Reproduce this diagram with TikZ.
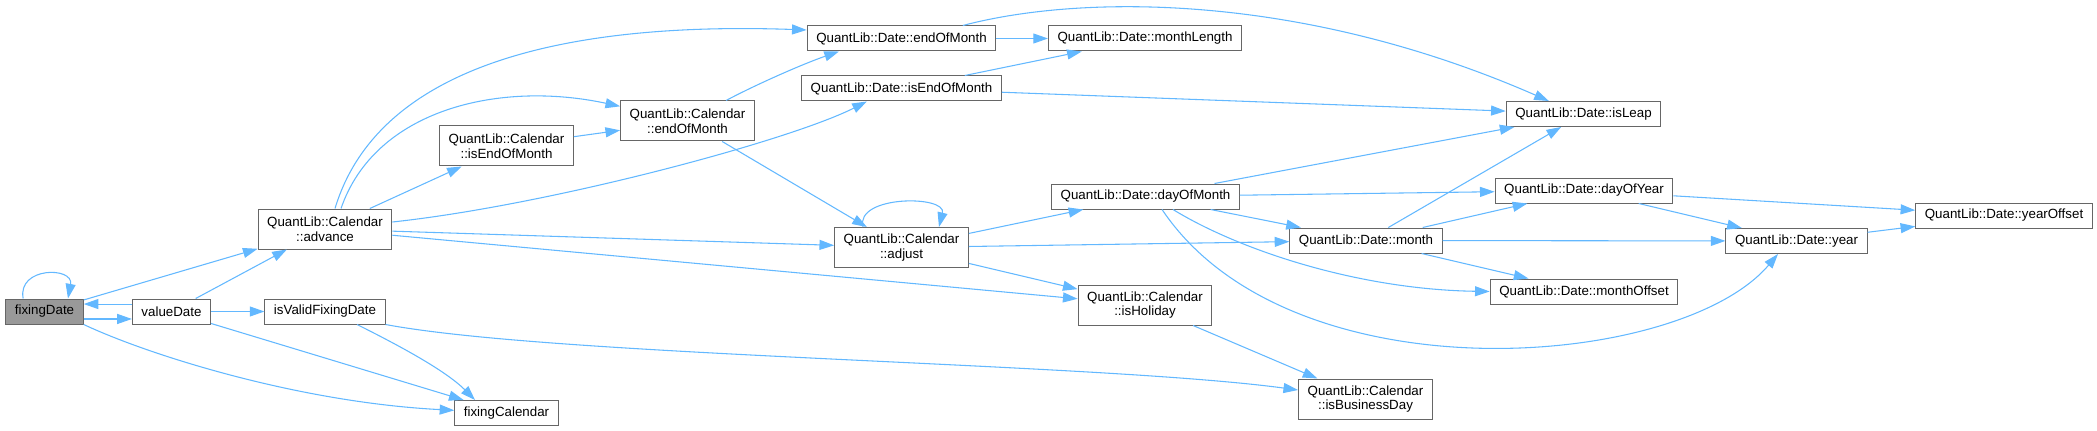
\documentclass[tikz,border=0pt]{standalone}
\usepackage{fontspec}
\setmainfont{Liberation Sans}
\usetikzlibrary{arrows.meta}
\definecolor{callblue}{HTML}{63B8FF}
\definecolor{boxline}{HTML}{666666}
\definecolor{rootfill}{HTML}{999999}
\begin{document}
\begin{tikzpicture}[x=0.75pt,y=-0.75pt,
    fn/.style={draw=boxline,fill=white,line width=0.75pt,font=\fontsize{10}{11}\selectfont,
      inner xsep=6.8pt,inner ysep=0pt,minimum height=18.75pt,align=center},
    fn2/.style={fn,minimum height=30pt},
    root/.style={fn,fill=rootfill},
    call/.style={draw=callblue,line width=0.8pt,-{Triangle[length=11pt,width=7.5pt]}}]
  \useasboundingbox (0,0) rectangle (2097,431);
  \node[root] (fd) at (44.5,311.5) {fixingDate};
  \node[fn] (vd) at (171.5,311.5) {valueDate};
  \node[fn2] (adv) at (325,229) {QuantLib::Calendar\\::advance};
  \node[fn] (ivfd) at (325,311.5) {isValidFixingDate};
  \node[fn] (fcal) at (506.5,413) {fixingCalendar};
  \node[fn2] (ciem) at (506.5,146) {QuantLib::Calendar\\::isEndOfMonth};
  \node[fn2] (ceom) at (687.5,121) {QuantLib::Calendar\\::endOfMonth};
  \node[fn] (deom) at (901.5,38.5) {QuantLib::Date::endOfMonth};
  \node[fn] (diem) at (901.5,88.5) {QuantLib::Date::isEndOfMonth};
  \node[fn2] (adj) at (901.5,247.5) {QuantLib::Calendar\\::adjust};
  \node[fn] (mlen) at (1145,38.5) {QuantLib::Date::monthLength};
  \node[fn] (dom) at (1145.5,196.5) {QuantLib::Date::dayOfMonth};
  \node[fn2] (hol) at (1145,305) {QuantLib::Calendar\\::isHoliday};
  \node[fn] (mon) at (1366,240.5) {QuantLib::Date::month};
  \node[fn2] (bday) at (1365.5,399) {QuantLib::Calendar\\::isBusinessDay};
  \node[fn] (leap) at (1583.5,114) {QuantLib::Date::isLeap};
  \node[fn] (doy) at (1584,190.5) {QuantLib::Date::dayOfYear};
  \node[fn] (moff) at (1584,291.5) {QuantLib::Date::monthOffset};
  \node[fn] (yr) at (1796.5,241) {QuantLib::Date::year};
  \node[fn] (yoff) at (2004,215.5) {QuantLib::Date::yearOffset};

  \foreach \a/\b in {fd/adv,vd/adv,vd/ivfd,vd/fcal,adv/ciem,adv/adj,adv/hol,ciem/ceom,ceom/adj,
      deom/mlen,diem/mlen,diem/leap,adj/dom,adj/mon,adj/hol,dom/leap,dom/doy,dom/mon,
      mon/leap,mon/doy,mon/yr,mon/moff,doy/yr,doy/yoff,yr/yoff,hol/bday}
    \draw[call] (\a) -- (\b);

  \draw[call] ([xshift=-16pt]fd.north) .. controls +(-6,-32) and +(6,-32) .. ([xshift=17.6pt]fd.north);
  \draw[call] ([yshift=-5.6pt]fd.east) -- ([yshift=-5.6pt]vd.west);
  \draw[call] ([yshift=5.6pt]vd.west) -- ([yshift=5.6pt]fd.east);
  \draw[call] (fd.south east) .. controls +(66,31) and +(-155,-8) .. ([yshift=2pt]fcal.west);
  \draw[call] ([xshift=24pt]ivfd.south) .. controls +(40,20) and +(-30,-30) .. ([xshift=-23.6pt]fcal.north);
  \draw[call] (ivfd.south east) .. controls +(170,32) and +(-200,-27) .. ([yshift=6.75pt]bday.west);
  \draw[call] ([xshift=7.5pt]adv.north) .. controls +(45,-149) and +(-228,-8) .. ([yshift=6.4pt]deom.west);
  \draw[call] ([xshift=12pt]adv.north) .. controls +(34,-99) and +(-121,-26) .. ([yshift=11pt]ceom.west);
  \draw[call] ([yshift=5.25pt]adv.east) .. controls +(158,-17) and +(-77,39) .. ([xshift=-26pt]diem.south);
  \draw[call] ([xshift=28.9pt]ceom.north) .. controls +(30,-16) and +(-35,12) .. ([xshift=-46.9pt]deom.south);
  \draw[call] ([xshift=-28.9pt]adj.north) .. controls +(-8,-32) and +(8,-32) .. ([xshift=28.1pt]adj.north);
  \draw[call] ([xshift=46pt]deom.north) .. controls +(117,-31) and +(-249,-109) .. ([xshift=-26pt]leap.north);
  \draw[call] ([xshift=20.6pt]dom.south) .. controls +(67,41) and +(-131,-2) .. (moff.west);
  \draw[call] ([xshift=12.4pt]dom.south) .. controls +(128,191) and +(-98,116) .. ([xshift=-13.9pt]yr.south);
\end{tikzpicture}
\end{document}
